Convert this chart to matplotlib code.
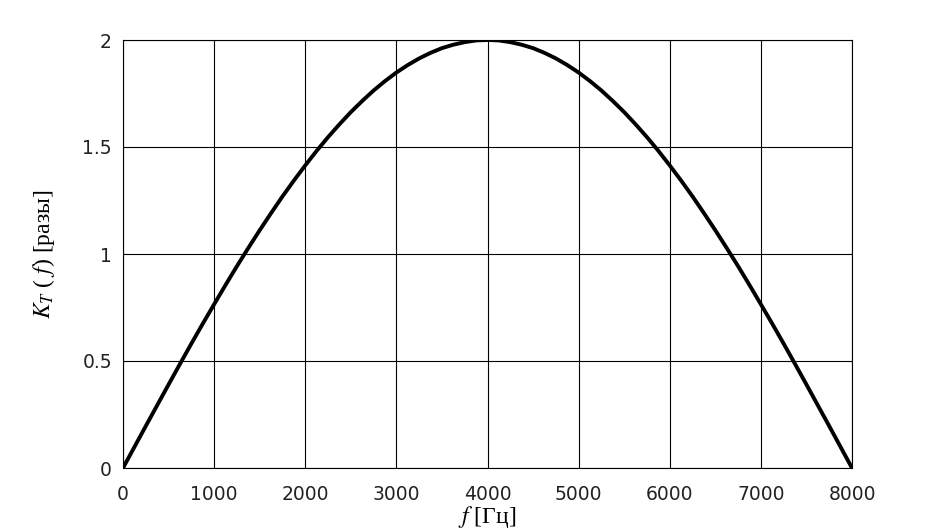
import numpy as np
import matplotlib
matplotlib.use("Agg")
from matplotlib import pyplot as plt

# frequency in Hz (step 125) and gain
freq = list(range(0, 8001, 125))
gain = [0, 0.098, 0.196, 0.293, 0.390, 0.486, 0.581, 0.674, 0.765, 0.855, 0.943,
        1.028, 1.111, 1.191, 1.269, 1.343, 1.414, 1.482, 1.546, 1.606, 1.663,
        1.715, 1.764, 1.808, 1.848, 1.883, 1.914, 1.940, 1.962, 1.978, 1.990,
        1.998, 2.0,
        1.998, 1.990, 1.978, 1.962, 1.940, 1.914, 1.883, 1.848, 1.808, 1.764,
        1.715, 1.663, 1.606, 1.546, 1.482, 1.414, 1.343, 1.269, 1.191, 1.111,
        1.028, 0.943, 0.855, 0.765, 0.674, 0.581, 0.486, 0.390, 0.293, 0.196,
        0.098, 0]

xticks = [0, 1000, 2000, 3000, 4000, 5000, 6000, 7000, 8000]
yticks = [0, 0.5, 1, 1.5, 2]
yticklabels = ['0', '0.5', '1', '1.5', '2']

plt.rcParams['mathtext.fontset'] = 'stix'

fig = plt.figure(figsize=(9.4, 5.32), dpi=100)
ax = fig.add_axes([123/940, 1 - 468/532, (852-123)/940, (468-40)/532])

ax.plot(freq, gain, color='black', lw=2.8, solid_capstyle='round')
ax.set_xlim(0, 8000)
ax.set_ylim(0, 2)
ax.set_xticks(xticks)
ax.set_yticks(yticks)
ax.set_yticklabels(yticklabels)
ax.grid(True, color='black', lw=0.8)
for s in ax.spines.values():
    s.set_linewidth(0.8)
ax.tick_params(length=0, labelsize=13.5)
ax.tick_params(axis='x', pad=12)
ax.tick_params(axis='y', pad=8)
for lab in ax.get_xticklabels() + ax.get_yticklabels():
    lab.set_fontfamily('DejaVu Sans')
    lab.set_color('#222222')

ax.set_xlabel(r'$f$ [Гц]', fontsize=17, family='Liberation Serif', labelpad=0)
ax.set_ylabel(r'$K_T$ ( $f$) [разы]', fontsize=17, family='Liberation Serif', labelpad=18)

fig.savefig('out.png', dpi=100)
